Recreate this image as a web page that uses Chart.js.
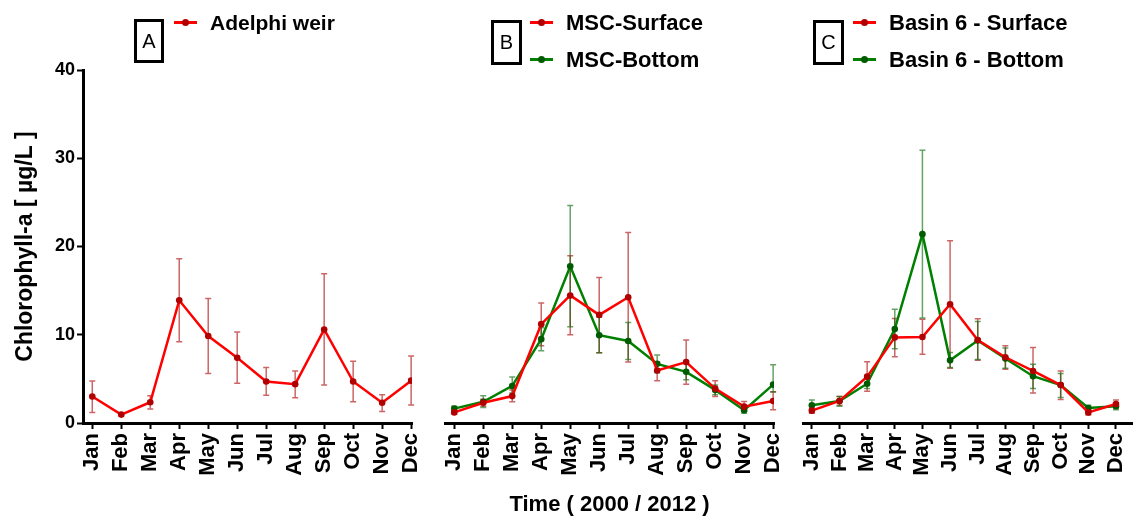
<!DOCTYPE html>
<html lang="en">
<head>
<meta charset="UTF-8">
<title>Chlorophyll-a</title>
<style>
  body { margin: 0; background: #fff; font-family: "Liberation Sans", Arial, sans-serif; }
  #wrap { position: relative; width: 1136px; height: 519px; }
  #wrap canvas { position: absolute; left: 0; top: 0; }
  .box { position: absolute; border: 3px solid #000; box-sizing: border-box; font-size: 20px; text-align: center; color: #000; }
  .lg { position: absolute; font-weight: bold; white-space: nowrap; height: 26px; line-height: 26px; color: #000; }
  .mk { display: inline-block; position: relative; width: 23px; height: 3px; vertical-align: middle; margin-right: 13px; margin-top: -3px; }
  .mk::after { content: ""; position: absolute; left: 8px; top: -2px; width: 7px; height: 7px; border-radius: 50%; }
  .red { background: #ff0000; }
  .red::after { background: #b00000; }
  .green { background: #008000; }
  .green::after { background: #005a00; }
</style>
</head>
<body>
<div id="wrap">
  <canvas id="panelA" width="1136" height="519"></canvas>
  <canvas id="panelB" width="1136" height="519"></canvas>
  <canvas id="panelC" width="1136" height="519"></canvas>

  <div class="box" style="left:134px; top:19px; width:30px; height:44px; line-height:38px;">A</div>
  <div class="lg" style="left:174px; top:10px; font-size:21px;"><span class="mk red"></span>Adelphi weir</div>

  <div class="box" style="left:491px; top:20px; width:31px; height:45px; line-height:39px;">B</div>
  <div class="lg" style="left:530px; top:10px; font-size:22px;"><span class="mk red"></span>MSC-Surface</div>
  <div class="lg" style="left:530px; top:47px; font-size:22px;"><span class="mk green"></span>MSC-Bottom</div>

  <div class="box" style="left:813px; top:20px; width:31px; height:45px; line-height:39px;">C</div>
  <div class="lg" style="left:853px; top:10px; font-size:22px;"><span class="mk red"></span>Basin 6 - Surface</div>
  <div class="lg" style="left:853px; top:47px; font-size:22px;"><span class="mk green"></span>Basin 6 - Bottom</div>
</div>

<script src="https://cdn.jsdelivr.net/npm/chart.js"></script>
<script>
const months = ['Jan', 'Feb', 'Mar', 'Apr', 'May', 'Jun', 'Jul', 'Aug', 'Sep', 'Oct', 'Nov', 'Dec'];
const yTicks = [0, 10, 20, 30, 40];

// A - Adelphi weir
const adelphiMean = [3.0, 0.95, 2.35, 13.9, 9.85, 7.4, 4.7, 4.4, 10.6, 4.7, 2.3, 4.8];
const adelphiHigh = [4.75, 1.1, 3.1, 18.6, 14.1, 10.3, 6.3, 5.9, 16.9, 7.0, 3.2, 7.6];
const adelphiLow  = [1.2, 0.8, 1.6, 9.2, 5.6, 4.5, 3.15, 2.85, 4.3, 2.4, 1.3, 2.05];

// B - MSC
const mscSurfMean = [1.2, 2.3, 3.05, 11.2, 14.45, 12.25, 14.25, 5.95, 6.9, 3.9, 1.85, 2.5];
const mscSurfHigh = [1.4, 2.7, 3.75, 13.6, 18.95, 16.5, 21.6, 6.9, 9.4, 4.8, 2.45, 3.55];
const mscSurfLow  = [1.0, 1.9, 2.4, 8.75, 10.0, 7.95, 6.9, 4.8, 4.4, 3.0, 1.3, 1.5];
const mscBotMean  = [1.63, 2.4, 4.2, 9.5, 17.75, 9.95, 9.3, 6.7, 5.8, 3.75, 1.45, 4.35];
const mscBotHigh  = [1.9, 3.1, 5.2, 10.8, 24.65, 12.0, 11.4, 7.7, 6.7, 4.3, 1.8, 6.6];
const mscBotLow   = [1.35, 1.75, 3.4, 8.2, 10.9, 7.95, 7.2, 5.7, 4.9, 3.2, 1.1, 3.5];

// C - Basin 6
const b6SurfMean = [1.4, 2.5, 5.25, 9.7, 9.75, 13.45, 9.4, 7.45, 5.9, 4.3, 1.2, 2.15];
const b6SurfHigh = [1.7, 3.0, 6.95, 11.85, 11.75, 20.65, 11.8, 8.75, 8.55, 5.9, 1.5, 2.6];
const b6SurfLow  = [1.1, 2.0, 3.6, 7.5, 7.8, 6.2, 7.1, 6.1, 3.4, 2.65, 0.9, 1.7];
const b6BotMean  = [2.0, 2.5, 4.45, 10.65, 21.4, 7.1, 9.35, 7.3, 5.3, 4.3, 1.7, 1.9];
const b6BotHigh  = [2.6, 3.0, 5.0, 12.9, 30.9, 8.0, 11.5, 8.5, 6.65, 5.6, 2.0, 2.3];
const b6BotLow   = [1.5, 1.9, 3.9, 8.4, 11.9, 6.3, 7.2, 6.2, 3.9, 2.9, 1.4, 1.5];

const FONT = '"Liberation Sans", Arial, sans-serif';

// draws the vertical error bars with small caps behind the lines
const errorBars = {
  id: 'errorBars',
  beforeDatasetsDraw(chart) {
    const ctx = chart.ctx;
    const y = chart.scales.y;
    chart.data.datasets.forEach((ds, i) => {
      const meta = chart.getDatasetMeta(i);
      ctx.save();
      ctx.strokeStyle = ds.errColor;
      ctx.lineWidth = 1.5;
      meta.data.forEach((pt, j) => {
        const top = y.getPixelForValue(ds.high[j]);
        const bot = y.getPixelForValue(ds.low[j]);
        ctx.beginPath();
        ctx.moveTo(pt.x, top); ctx.lineTo(pt.x, bot);
        ctx.moveTo(pt.x - 3, top); ctx.lineTo(pt.x + 3, top);
        ctx.moveTo(pt.x - 3, bot); ctx.lineTo(pt.x + 3, bot);
        ctx.stroke();
      });
      ctx.restore();
    });
  }
};

const series = (label, mean, high, low, color) => ({
  label: label,
  data: mean.map((v, i) => ({ x: i, y: v })),
  high: high,
  low: low,
  borderColor: color === 'red' ? '#ff0000' : '#008000',
  pointBackgroundColor: color === 'red' ? '#b00000' : '#005a00',
  errColor: color === 'red' ? 'rgba(170,0,0,0.6)' : 'rgba(0,100,0,0.6)',
  borderWidth: 2.5,
  pointRadius: 3.3,
  pointBorderWidth: 0,
  tension: 0
});

const makePanel = (id, datasets, p) => {
  new Chart(document.getElementById(id), {
    type: 'line',
    data: { datasets: datasets },
    plugins: [errorBars],
    options: {
      responsive: false,
      animation: false,
      layout: { padding: { left: p.left, right: p.right, top: 70, bottom: 0 } },
      plugins: { legend: { display: false }, tooltip: { enabled: false } },
      scales: {
        x: {
          type: 'linear',
          min: -0.32,
          max: p.xMax,
          afterBuildTicks: (axis) => { axis.ticks = months.map((m, i) => ({ value: i })); },
          afterFit: (scale) => {
            scale.height = 96;
            scale.paddingLeft = 0;
            scale.paddingRight = 0;
          },
          grid: { drawOnChartArea: false, drawTicks: true, tickLength: 6, tickWidth: 2, tickColor: '#000' },
          border: { display: true, width: 3, color: '#000' },
          ticks: {
            autoSkip: false,
            minRotation: 90,
            maxRotation: 90,
            padding: 4,
            color: '#000',
            font: { family: FONT, size: 22, weight: 'bold' },
            callback: (v) => months[v]
          },
          title: {
            display: p.xTitle,
            text: 'Time ( 2000 / 2012 )',
            color: '#000',
            padding: { top: 0, bottom: 1 },
            font: { family: FONT, size: 22, weight: 'bold' }
          }
        },
        y: {
          display: p.showY,
          min: 0,
          max: 40,
          afterBuildTicks: (axis) => { axis.ticks = yTicks.map(v => ({ value: v })); },
          afterFit: (scale) => { if (p.showY) scale.width = 83; },
          grid: { drawOnChartArea: false, drawTicks: true, tickLength: 6, tickWidth: 2, tickColor: '#000' },
          border: { display: true, width: 3, color: '#000' },
          ticks: {
            padding: 2,
            color: '#000',
            font: { family: FONT, size: 18, weight: 'bold' }
          },
          title: {
            display: true,
            text: 'Chlorophyll-a [ µg/L ]',
            color: '#000',
            padding: { top: 12, bottom: 0 },
            font: { family: FONT, size: 23, weight: 'bold' }
          }
        }
      }
    }
  });
};

makePanel('panelA', [
  series('Adelphi weir', adelphiMean, adelphiHigh, adelphiLow, 'red')
], { left: 0, right: 1136 - 412, xMax: 11.03, showY: true, xTitle: false });

makePanel('panelB', [
  series('MSC-Surface', mscSurfMean, mscSurfHigh, mscSurfLow, 'red'),
  series('MSC-Bottom', mscBotMean, mscBotHigh, mscBotLow, 'green')
], { left: 445, right: 1136 - 774, xMax: 11.03, showY: false, xTitle: true });

makePanel('panelC', [
  series('Basin 6 - Surface', b6SurfMean, b6SurfHigh, b6SurfLow, 'red'),
  series('Basin 6 - Bottom', b6BotMean, b6BotHigh, b6BotLow, 'green')
], { left: 803, right: 3, xMax: 11.58, showY: false, xTitle: false });
</script>
</body>
</html>
